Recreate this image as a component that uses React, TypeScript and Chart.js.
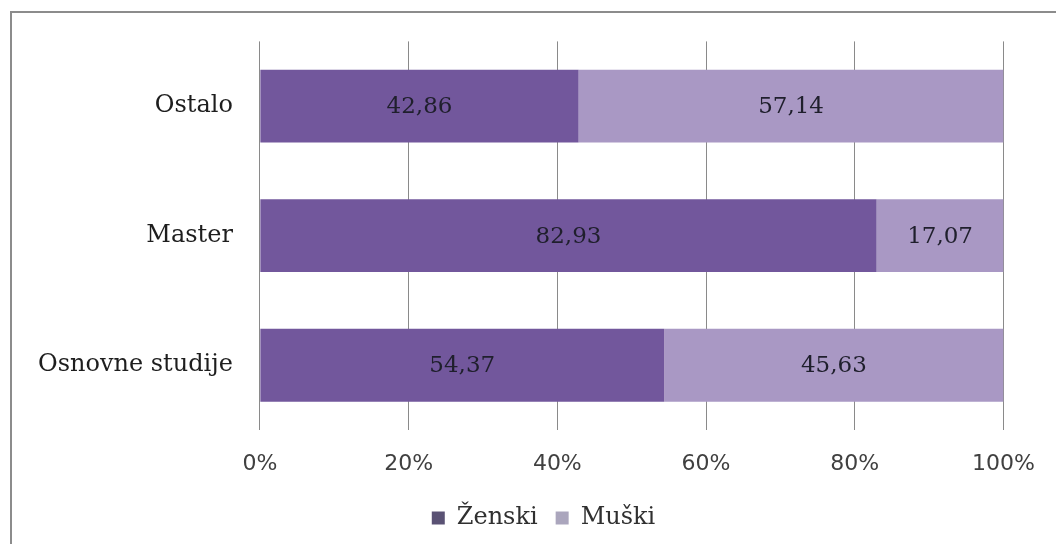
import React, { useEffect, useRef } from 'react';
import { Chart, registerables } from 'chart.js';

Chart.register(...registerables);

const categories = ['Ostalo', 'Master', 'Osnovne studije'];
const seriesNames = ['Ženski', 'Muški'];
const zenskiValues = [42.86, 82.93, 54.37];
const muskiValues = [57.14, 17.07, 45.63];
const xTickValues = [0, 20, 40, 60, 80, 100];

const barColors = ['#72579c', '#a998c4'];
const legendColors = ['#5a5274', '#aba6bd'];

const SERIF = '"DejaVu Serif", serif';
const SANS = '"DejaVu Sans", sans-serif';

const valueLabels = {
  id: 'valueLabels',
  afterDatasetsDraw(chart: any) {
    const ctx = chart.ctx;
    ctx.save();
    ctx.font = `23px ${SERIF}`;
    ctx.fillStyle = '#1f1f2c';
    ctx.textAlign = 'center';
    ctx.textBaseline = 'middle';
    chart.data.datasets.forEach((ds: any, di: number) => {
      const meta = chart.getDatasetMeta(di);
      meta.data.forEach((el: any, i: number) => {
        const v = ds.data[i] as number;
        const p = el.getProps(['x', 'base', 'y'], true);
        ctx.fillText(v.toFixed(2).replace('.', ','), (p.x + p.base) / 2, p.y + 1);
      });
    });
    ctx.restore();
  },
};

const legendShift = {
  id: 'legendShift',
  afterLayout(chart: any) {
    const lg = chart.legend;
    if (lg) {
      lg.left += 36;
      lg.right += 36;
    }
  },
};

export default function App() {
  const canvasRef = useRef<HTMLCanvasElement | null>(null);

  useEffect(() => {
    if (!canvasRef.current) return;
    const chart = new Chart(canvasRef.current, {
      type: 'bar',
      data: {
        labels: categories,
        datasets: [
          {
            label: seriesNames[0],
            data: zenskiValues,
            backgroundColor: barColors[0],
            borderWidth: 0,
            barPercentage: 0.562,
            categoryPercentage: 1,
          },
          {
            label: seriesNames[1],
            data: muskiValues,
            backgroundColor: barColors[1],
            borderWidth: 0,
            barPercentage: 0.562,
            categoryPercentage: 1,
          },
        ],
      },
      options: {
        indexAxis: 'y',
        responsive: false,
        animation: false,
        devicePixelRatio: 1,
        layout: { padding: { left: 11, right: 52, top: 36, bottom: 4 } },
        plugins: {
          tooltip: { enabled: false },
          legend: {
            position: 'bottom',
            labels: {
              font: { family: SERIF, size: 24 },
              color: '#303030',
              boxWidth: 13,
              boxHeight: 13,
              padding: 18,
              generateLabels: (c: any) =>
                c.data.datasets.map((ds: any, i: number) => ({
                  text: ds.label,
                  fillStyle: legendColors[i],
                  strokeStyle: legendColors[i],
                  lineWidth: 0,
                  hidden: false,
                  datasetIndex: i,
                  fontColor: '#303030',
                })),
            },
          },
        },
        scales: {
          x: {
            stacked: true,
            min: 0,
            max: 100,
            afterBuildTicks: (scale: any) => {
              scale.ticks = xTickValues.map((v) => ({ value: v }));
            },
            afterFit: (scale: any) => {
              scale.height = 58;
            },
            ticks: {
              callback: (v: any) => `${v}%`,
              font: { family: SANS, size: 22 },
              color: '#404040',
              padding: 21,
              maxRotation: 0,
            },
            grid: { color: '#8a8a8a', lineWidth: 1, drawTicks: false },
            border: { display: false },
          },
          y: {
            stacked: true,
            ticks: {
              font: { family: SERIF, size: 24 },
              color: '#1e1e1e',
              padding: 27,
            },
            grid: { display: false, drawTicks: false },
            border: { display: false },
          },
        },
      },
      plugins: [valueLabels, legendShift],
    } as any);
    return () => chart.destroy();
  }, []);

  return (
    <div
      style={{
        position: 'fixed',
        left: 0,
        top: 0,
        width: 1056,
        height: 544,
        overflow: 'hidden',
        background: '#ffffff',
      }}
    >
      <div
        style={{
          position: 'absolute',
          left: 10,
          top: 11,
          width: 1200,
          height: 700,
          border: '2px solid #8c8c8c',
          boxSizing: 'border-box',
        }}
      />
      <canvas
        ref={canvasRef}
        width={1056}
        height={544}
        style={{ position: 'absolute', left: 0, top: 0, width: 1056, height: 544 }}
      />
    </div>
  );
}
